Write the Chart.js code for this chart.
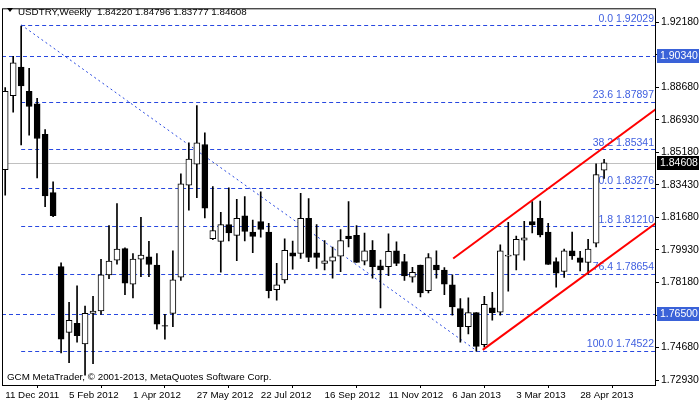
<!DOCTYPE html>
<html><head><meta charset="utf-8">
<script src="https://cdn.jsdelivr.net/npm/chart.js@4.4.0/dist/chart.umd.min.js"></script>
<style>html,body{margin:0;padding:0;background:#fff}#w{width:700px;height:402px}</style>
</head><body><div id="w"><canvas id="c" width="700" height="402"></canvas></div>
<script>
const opens=[1.8424,1.8822,1.8976,1.8845,1.8778,1.8614,1.8301,1.7903,1.7550,1.7599,1.7488,1.7652,1.7665,1.7859,1.7938,1.8000,1.7809,1.7944,1.7956,1.7912,1.7587,1.7652,1.7847,1.8341,1.8454,1.8560,1.8053,1.8039,1.8129,1.8071,1.8177,1.8089,1.8145,1.8089,1.7779,1.7832,1.7977,1.7974,1.8163,1.7977,1.7921,1.7933,1.7960,1.8067,1.8071,1.7933,1.7991,1.7908,1.7903,1.7988,1.7930,1.7846,1.7912,1.7774,1.7912,1.7885,1.7806,1.7678,1.7580,1.7656,1.7484,1.7682,1.7659,1.7960,1.7965,1.8045,1.8145,1.8163,1.8089,1.7930,1.7877,1.7988,1.7951,1.7926,1.8030,1.84220];
const highs=[1.8866,1.9034,1.9197,1.8969,1.8808,1.8640,1.8359,1.7924,1.7712,1.7800,1.7691,1.7744,1.7942,1.8124,1.8242,1.8004,1.7974,1.8168,1.8039,1.7974,1.7647,1.7988,1.8402,1.8569,1.8769,1.8622,1.8333,1.8195,1.8327,1.8265,1.8280,1.8154,1.8306,1.8136,1.7921,1.8053,1.8041,1.8297,1.8269,1.8129,1.8044,1.8009,1.8103,1.8253,1.8124,1.8083,1.8044,1.7938,1.8080,1.8036,1.7969,1.7899,1.7912,1.7974,1.7988,1.7898,1.7859,1.7731,1.7735,1.7656,1.7744,1.7765,1.8021,1.8142,1.8067,1.8147,1.8253,1.8256,1.8136,1.7951,1.7997,1.8089,1.7986,1.8050,1.8456,1.84796];
const lows=[1.8287,1.8734,1.8557,1.8610,1.8380,1.8225,1.8172,1.7440,1.7387,1.7497,1.7320,1.7382,1.7647,1.7838,1.7917,1.7753,1.7735,1.7850,1.7850,1.7567,1.7514,1.7581,1.7829,1.8207,1.8274,1.8165,1.8048,1.7873,1.8041,1.7935,1.8041,1.7979,1.8062,1.7735,1.7723,1.7815,1.7889,1.7947,1.7930,1.7894,1.7885,1.7841,1.7876,1.8009,1.7926,1.7912,1.7841,1.7682,1.7855,1.7908,1.7829,1.7820,1.7740,1.7762,1.7841,1.7753,1.7643,1.7497,1.7541,1.7449,1.7470,1.7615,1.7643,1.7771,1.7885,1.7938,1.8085,1.8063,1.7915,1.7793,1.7845,1.7942,1.7880,1.7862,1.8009,1.83777];
const closes=[1.8845,1.8999,1.8875,1.8764,1.8592,1.8283,1.8177,1.7514,1.7615,1.7532,1.7652,1.7665,1.7859,1.7933,1.7997,1.7815,1.7944,1.7965,1.7915,1.7594,1.7583,1.7832,1.8349,1.8481,1.8569,1.8218,1.8097,1.8129,1.8085,1.8163,1.8092,1.8066,1.8103,1.7774,1.7806,1.7991,1.7960,1.8163,1.7953,1.7953,1.7935,1.7956,1.8044,1.8053,1.7926,1.7988,1.7903,1.7885,1.7986,1.7921,1.7853,1.7873,1.7762,1.7952,1.7885,1.7809,1.7687,1.7581,1.7656,1.7475,1.7700,1.7656,1.7988,1.7966,1.8050,1.8058,1.8127,1.8074,1.7915,1.7868,1.7988,1.7961,1.7926,1.7997,1.8398,1.84608];
const dateLabels=["11 Dec 2011","5 Feb 2012","1 Apr 2012","27 May 2012","22 Jul 2012","16 Sep 2012","11 Nov 2012","6 Jan 2013","3 Mar 2013","28 Apr 2013"];
const dateIdx=[0,8,16,24,32,40,48,56,64,72];
const priceTicks=[1.7293,1.7468,1.7643,1.7818,1.7993,1.8168,1.8343,1.8518,1.8693,1.8868,1.9043,1.9218];
const fibNames=["0.0","23.6","38.2","50.0","61.8","76.4","100.0"];
const fibValues=[1.92029,1.87897,1.85341,1.83276,1.81210,1.78654,1.74522];
const hLines=[1.90340,1.76500];
const lastPrice=1.84608;
const trendLine=[[2,1.92029],[59,1.74522]];
const channelUpper=[[56.1,1.7947],[81.5,1.8751]];
const channelLower=[[59.8,1.7456],[81.5,1.8138]];

const N=opens.length;
const bodies=[],wicks=[],fills=[];
for(let i=0;i<N;i++){
  let o=opens[i],c=closes[i];
  bodies.push({x:i,y:[o,c]});wicks.push({x:i,y:[lows[i],highs[i]]});
  fills.push(c>=o?'#ffffff':'#000000');
}
const F='Liberation Sans';
const FS=10.5, FT=9.8;
const BLUE='#2848e0';
const overlay={
 id:'ov',
 beforeDatasetsDraw(ch){
  const {ctx,chartArea:a,scales:{x,y}}=ch;
  ctx.save();ctx.beginPath();ctx.rect(a.left,a.top,a.right-a.left,a.bottom-a.top);ctx.clip();
  ctx.strokeStyle='#c0c0c0';ctx.lineWidth=1;ctx.beginPath();
  let py=Math.round(y.getPixelForValue(lastPrice))+0.5;ctx.moveTo(a.left,py);ctx.lineTo(a.right,py);ctx.stroke();
  ctx.strokeStyle=BLUE;ctx.setLineDash([4,3]);
  const x0=x.getPixelForValue(2);
  fibValues.forEach(v=>{let p=Math.round(y.getPixelForValue(v))+0.5;ctx.beginPath();ctx.moveTo(x0,p);ctx.lineTo(a.right,p);ctx.stroke();});
  hLines.forEach(v=>{let p=Math.round(y.getPixelForValue(v))+0.5;ctx.beginPath();ctx.moveTo(a.left,p);ctx.lineTo(a.right,p);ctx.stroke();});
  ctx.setLineDash([2,3]);ctx.beginPath();
  ctx.moveTo(x.getPixelForValue(trendLine[0][0]),y.getPixelForValue(trendLine[0][1]));
  ctx.lineTo(x.getPixelForValue(trendLine[1][0]),y.getPixelForValue(trendLine[1][1]));ctx.stroke();
  ctx.setLineDash([]);
  ctx.fillStyle='#4060e0';ctx.font=FS+'px '+F;ctx.textAlign='right';ctx.textBaseline='bottom';
  fibValues.forEach((v,k)=>{ctx.fillText(fibNames[k]+' '+v.toFixed(5),a.right-2,y.getPixelForValue(v)-1);});
  ctx.restore();
 },
 afterDatasetsDraw(ch){
  const {ctx,chartArea:a,scales:{x,y}}=ch;
  ctx.save();ctx.beginPath();ctx.rect(a.left,a.top,a.right-a.left,a.bottom-a.top);ctx.clip();
  ctx.strokeStyle='#ff0000';ctx.lineWidth=2;
  [channelUpper,channelLower].forEach(l=>{ctx.beginPath();ctx.moveTo(x.getPixelForValue(l[0][0]),y.getPixelForValue(l[0][1]));ctx.lineTo(x.getPixelForValue(l[1][0]),y.getPixelForValue(l[1][1]));ctx.stroke();});
  ctx.restore();
 },
 afterDraw(ch){
  const {ctx,chartArea:a,scales:{y}}=ch;
  ctx.save();
  ctx.strokeStyle='#000';ctx.lineWidth=1;ctx.strokeRect(a.left+0.5,a.top+0.5,a.right-a.left-1,a.bottom-a.top);
  ctx.font=FS+'px '+F;ctx.textBaseline='middle';ctx.textAlign='left';
  const box=(v,bg)=>{let p=Math.round(y.getPixelForValue(v));ctx.fillStyle=bg;ctx.fillRect(a.right+1,p-7,42,14);ctx.fillStyle='#fff';ctx.fillText(v.toFixed(5),a.right+4,p);};
  hLines.forEach(v=>box(v,'#3a62d8'));box(lastPrice,'#000');
  ctx.fillStyle='#000';ctx.beginPath();ctx.moveTo(7,8);ctx.lineTo(13,8);ctx.lineTo(10,12);ctx.fill();
  ctx.textBaseline='alphabetic';ctx.font=FT+'px '+F;
  ctx.fillText('USDTRY,Weekly  1.84220 1.84796 1.83777 1.84608',18,15);
  ctx.fillText('GCM MetaTrader, \u00a9 2001-2013, MetaQuotes Software Corp.',7,380);
  ctx.restore();
 }
};
new Chart(document.getElementById('c'),{
 type:'bar',
 data:{datasets:[
  {data:bodies,backgroundColor:fills,borderColor:'#000',borderWidth:1,borderSkipped:false,barThickness:6,grouped:false},
  {data:wicks,backgroundColor:'#000',borderWidth:0,barThickness:1,grouped:false}
 ]},
 options:{responsive:false,animation:false,devicePixelRatio:1,
  layout:{padding:{left:2,top:3,right:0,bottom:0}},
  plugins:{legend:{display:false},tooltip:{enabled:false}},
  scales:{
   x:{type:'linear',min:-0.4,max:81.5,offset:false,
    afterBuildTicks(s){s.ticks=dateIdx.map(v=>({value:v}));},
    afterFit(s){s.height=17;},
    grid:{drawOnChartArea:false,color:'#000',tickLength:3},border:{display:false},
    ticks:{autoSkip:false,maxRotation:0,align:'start',padding:1,color:'#000',font:{family:F,size:FT},callback:(v)=>dateLabels[dateIdx.indexOf(v)]}},
   y:{position:'right',min:1.7267,max:1.9292,
    afterBuildTicks(s){s.ticks=priceTicks.map(v=>({value:v}));},
    afterFit(s){s.width=44;},
    grid:{drawOnChartArea:false,color:'#000',tickLength:3},border:{display:false},
    ticks:{autoSkip:false,padding:2,color:'#000',font:{family:F,size:FS},callback:v=>v.toFixed(5)}}
  }},
 plugins:[overlay]
});
</script></body></html>
